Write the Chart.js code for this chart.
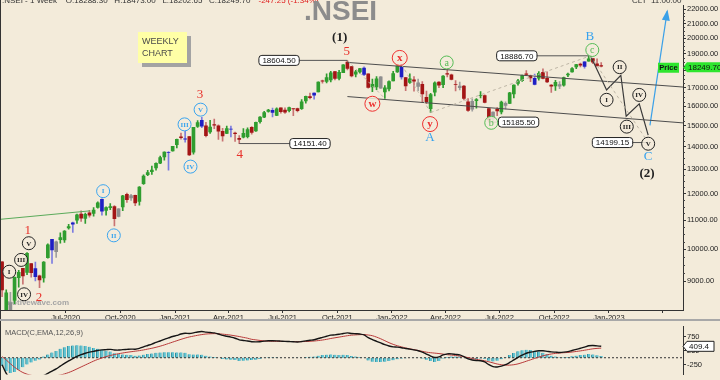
<!DOCTYPE html>
<html><head><meta charset="utf-8">
<script src="https://cdn.jsdelivr.net/npm/chart.js@4.4.1/dist/chart.umd.min.js"></script>
<style>
html,body{margin:0;padding:0;background:#f3ebda;width:720px;height:380px;overflow:hidden;}
#wrap{position:relative;width:720px;height:380px;background:#f3ebda;}
#c1{position:absolute;left:0;top:0;}
#c2{position:absolute;left:0;top:321px;}
#sep{position:absolute;left:0;top:319px;width:720px;height:2px;background:#a8a8a8;}
</style></head><body><div id="wrap"><canvas id="c1" width="720" height="320"></canvas><div id="sep"></div><canvas id="c2" width="720" height="59"></canvas></div>
<script>
// ---------------- DATA ----------------
const weeks = ['2020-03-16','2020-03-23','2020-03-30','2020-04-06','2020-04-13','2020-04-20','2020-04-27','2020-05-04','2020-05-11','2020-05-18',
'2020-05-25','2020-06-01','2020-06-08','2020-06-15','2020-06-22','2020-06-29','2020-07-06','2020-07-13','2020-07-20','2020-07-27',
'2020-08-03','2020-08-10','2020-08-17','2020-08-24','2020-08-31','2020-09-07','2020-09-14','2020-09-21','2020-09-28','2020-10-05',
'2020-10-12','2020-10-19','2020-10-26','2020-11-02','2020-11-09','2020-11-16','2020-11-23','2020-11-30','2020-12-07','2020-12-14',
'2020-12-21','2020-12-28','2021-01-04','2021-01-11','2021-01-18','2021-01-25','2021-02-01','2021-02-08','2021-02-15','2021-02-22',
'2021-03-01','2021-03-08','2021-03-15','2021-03-22','2021-03-29','2021-04-05','2021-04-12','2021-04-19','2021-04-26','2021-05-03',
'2021-05-10','2021-05-17','2021-05-24','2021-05-31','2021-06-07','2021-06-14','2021-06-21','2021-06-28','2021-07-05','2021-07-12',
'2021-07-19','2021-07-26','2021-08-02','2021-08-09','2021-08-16','2021-08-23','2021-08-30','2021-09-06','2021-09-13','2021-09-20',
'2021-09-27','2021-10-04','2021-10-11','2021-10-18','2021-10-25','2021-11-01','2021-11-08','2021-11-15','2021-11-22','2021-11-29',
'2021-12-06','2021-12-13','2021-12-20','2021-12-27','2022-01-03','2022-01-10','2022-01-17','2022-01-24','2022-01-31','2022-02-07',
'2022-02-14','2022-02-21','2022-02-28','2022-03-07','2022-03-14','2022-03-21','2022-03-28','2022-04-04','2022-04-11','2022-04-18',
'2022-04-25','2022-05-02','2022-05-09','2022-05-16','2022-05-23','2022-05-30','2022-06-06','2022-06-13','2022-06-20','2022-06-27',
'2022-07-04','2022-07-11','2022-07-18','2022-07-25','2022-08-01','2022-08-08','2022-08-15','2022-08-22','2022-08-29','2022-09-05',
'2022-09-12','2022-09-19','2022-09-26','2022-10-03','2022-10-10','2022-10-17','2022-10-24','2022-10-31','2022-11-07','2022-11-14',
'2022-11-21','2022-11-28','2022-12-05','2022-12-12','2022-12-19'];

const opens = [9588,7945,8385,8446,9103,9390,9259,9533,9382,9158,
9099,9726,10326,9919,10318,10311,10723,10851,10999,11225,
11058,11271,11248,11466,11778,11359,11465,11504,11140,11487,
11973,11835,11937,11697,12399,12780,12906,13062,13265,13547,
13741,13815,14104,14474,14360,14482,13758,14973,15271,14999,
14702,15064,14997,14736,14628,14837,14644,14402,14449,14481,
14928,14756,15211,15437,15725,15791,15525,15915,15793,15766,
15877,15874,15874,16288,16518,16592,16775,17400,17363,17443,
17932,17532,17867,18500,18230,17784,17917,18140,17796,17051,
17045,17619,16773,16937,17388,17913,18235,17575,17301,17456,
17077,17193,16481,15867,16757,17329,17182,17809,17741,17183,
17009,17094,16227,15845,16290,16578,16570,15877,15335,15839,
15710,16151,16151,16662,17244,17402,17797,17682,17188,17546,
17890,17540,17156,17102,17094,17145,17736,17911,18211,18376,
18246,18552,18719,18402,18288];

const highs = [9602,8749,8678,9131,9324,9390,9890,9533,9584,9178,
9599,10177,10328,10272,10553,10631,10847,10934,11225,11341,
11256,11361,11460,11686,11794,11493,11618,11535,11428,11939,
12025,11975,11942,12280,12770,12963,13145,13280,13579,13773,
13778,14024,14367,14653,14754,14491,14925,15257,15432,15176,
15273,15336,15051,14878,14984,14985,14697,14527,14864,14900,
14967,15189,15470,15733,15835,15901,15915,15915,15915,15962,
15881,15901,16349,16544,16701,16722,17340,17437,17793,17947,
17947,18013,18351,18604.5,18242,18012,18124,18210,17806,17490,
17640,17639,17118,17400,17944,18286,18350,17599,17794,17639,
17490,17352,16816,16694,17344,17353,17703,18115,17779,17414,
17322,17132,16404,16400,16414,16794,16610,15887,15708,15927,
16276,16228,16752,17172,17474,17724,17992,17726,17778,17925,
18096,17919,17188,17428,17348,17607,17838,18176,18362,18442,
18534,18886.7,18728,18697,18473];

const lows = [8555,7511,8056,8360,8821,8910,9196,9116,9005,8806,
8968,9706,9544,9727,10194,10224,10676,10562,10880,10956,
10882,11112,11144,11442,11185,11185,11383,10790,11116,11347,
11661,11740,11535,11557,12368,12730,12790,12962,13241,13400,
12962,13796,13954,14357,14222,13596,13662,14919,14906,14467,
14636,14857,14350,14264,14617,14460,14250,14151.4,14416,14417,
14592,14723,15128,15405,15690,15450,15505,15635,15632,15707,
15513,15705,15834,16163,16395,16376,16765,17255,17270,17326,
17452,17452,17864,18034,17613,17613,17837,17689,16983,16782,
16891,16966,16410,16833,17384,17880,17486,16836,17244,16810,
16843,16203,16134,15671,16556,17004,17006,17623,17442,16825,
16889,16340,15735,15739,15903,16444,16172,15185.5,15191,15511,
15601,15859,16142,16438,17154,17359,17711,17345,17167,17429,
17498,17292,16748,16855,16950,17098,17637,17899,18104,18210,
18133,18552,18410,18255,18202];

const closes = [8745,8660,8084,9112,9267,9154,9860,9252,9137,9039,
9580,10142,9972,10244,10383,10607,10768,10902,11194,11073,
11214,11178,11372,11647,11333,11464,11505,11050,11417,11914,
11762,11930,11642,12264,12720,12859,12969,13258,13514,13761,
13749,14018,14347,14433,14372,13635,14924,15163,14981,14529,
14938,15031,14744,14507,14867,14834,14617,14341,14631,14823,
14677,15175,15435,15670,15799,15683,15860,15722,15690,15923,
15856,15763,16238,16529,16451,16705,17324,17369,17585,17853,
17532,17895,18339,18115,17672,17917,18103,17765,17026,17197,
17511,16985,17004,17354,17812,18256,17617,17102,17516,17375,
17276,16658,16245,16630,17287,17153,17670,17784,17476,17172,
17102,16411,15782,16266,16352,16584,16202,15294,15699,15752,
16220,16049,16719,17158,17398,17698,17758,17559,17539,17833,
17531,17327,17094,17315,17186,17576,17787,18117,18350,18308,
18512,18697,18497,18270,18249.7];

const macdLine = [-250,-560,-760,-850,-880,-870,-830,-800,-770,-740,
-640,-560,-480,-400,-300,-200,-110,-30,50,110,
160,200,230,260,280,290,300,280,275,290,
300,310,305,335,390,440,490,550,600,660,
710,760,800,850,880,870,890,925,940,920,
905,890,850,800,770,740,700,640,620,600,
575,570,575,595,610,610,605,595,585,580,
575,565,580,605,625,645,690,730,770,810,
820,840,870,890,870,860,850,820,720,650,
590,530,470,420,390,380,360,330,310,280,
250,200,130,60,10,30,100,140,140,120,
100,40,-40,-80,-100,-110,-150,-250,-320,-330,
-300,-250,-170,-80,10,90,160,200,230,250,
250,230,210,200,190,200,220,260,300,340,
380,430,440,425,409.4];

const signalLine = [40,-80,-215,-340,-445,-530,-590,-630,-660,-675,
-680,-675,-665,-645,-620,-580,-530,-470,-400,-330,
-260,-190,-120,-60,-10,40,80,115,145,170,
195,215,235,255,280,310,340,375,415,460,
510,560,610,660,705,745,775,805,830,850,
860,865,860,845,830,810,785,760,730,700,
660,640,620,605,595,590,588,586,584,582,
580,578,578,582,590,600,615,635,660,690,
715,740,765,790,810,820,828,830,815,790,
740,680,610,540,480,430,390,350,320,290,
260,230,200,180,165,150,130,110,95,80,
60,35,5,-25,-55,-85,-110,-145,-185,-225,
-250,-265,-265,-250,-220,-175,-125,-75,-25,25,
70,105,135,155,170,180,190,205,225,245,
270,295,320,335,345];

const xTickDates = ['2020-07-01','2020-10-01','2021-01-01','2021-04-01','2021-07-01','2021-10-01','2022-01-01','2022-04-01','2022-07-01','2022-10-01','2023-01-01','2023-04-01'];
const xTickLabels = ['Jul-2020','Oct-2020','Jan-2021','Apr-2021','Jul-2021','Oct-2021','Jan-2022','Apr-2022','Jul-2022','Oct-2022','Jan-2023',''];
const yTickValues = [9000,10000,11000,12000,13000,14000,15000,16000,17000,18000,19000,20000,21000,22000];
const macdTicks = [750,250,-250];

// wave labels: text, date, price, style
const waveLabels = [
 ['(1)','2021-10-05',20030,'paren'],['5','2021-10-17',19145,'redNum'],['3','2021-02-12',16607,'redNum'],
 ['4','2021-04-20',13636,'redNum'],['1','2020-04-28',10633,'redNum'],['2','2020-05-17',8536,'redNum'],
 ['I','2020-09-02',12100,'blueCirc'],['II','2020-09-20',10463,'blueCirc'],['III','2021-01-17',15073,'blueCirc'],
 ['IV','2021-01-27',13118,'blueCirc'],['V','2021-02-13',15821,'blueCirc'],
 ['I','2020-03-28',9283,'blackCirc'],['III','2020-04-17',9651,'blackCirc'],['V','2020-04-30',10196,'blackCirc'],['IV','2020-04-22',8619,'blackCirc'],
 ['w','2021-11-29',16131,'redCirc'],['x','2022-01-14',18757,'redCirc'],['y','2022-03-06',15088,'redCirc'],['A','2022-03-06',14454,'blueLetter'],
 ['a','2022-04-03',18477,'greenCirc'],['b','2022-06-17',15152,'greenCirc'],['c','2022-12-04',19251,'greenCirc'],['B','2022-11-30',20094,'blueLetter'],
 ['I','2022-12-28',16341,'blackCirc'],['II','2023-01-19',18196,'blackCirc'],['III','2023-01-31',14962,'blackCirc'],
 ['IV','2023-02-21',16607,'blackCirc'],['V','2023-03-08',14144,'blackCirc'],['C','2023-03-08',13549,'blueLetter'],['(2)','2023-03-06',12824,'paren']
];
// value tags: text, price, anchor date (bar), box centre date
const valueTags = [
 ['18604.50',18604.5,'2021-10-18','2021-06-25'],
 ['14151.40',14151.4,'2021-04-19','2021-08-16'],
 ['18886.70',18886.7,'2022-11-28','2022-07-30'],
 ['15185.50',15185.5,'2022-06-13','2022-08-02'],
 ['14199.15',14199.15,'2023-03-08','2023-01-07']
];
const greenTrend = [['2020-03-12',11028],['2020-08-11',11342]];
const channelUpper = [['2021-10-18',18480],['2023-05-06',17042]];
const channelLower = [['2021-10-18',16517],['2023-05-06',15146]];
const projection = [['2022-12-01',18887],['2022-12-28',16879],['2023-01-21',17716],['2023-01-30',15482],['2023-02-21',16131],['2023-03-08',14547]];
const breakout = [['2023-03-11',15022],['2023-04-09',21856]];
const guides = [
 [['2021-10-18',18604],['2021-12-20',16410]],
 [['2022-01-17',18350],['2022-03-07',15671]],
 [['2022-03-07',15671],['2022-12-01',18887]],
 [['2022-12-01',18887],['2023-03-08',14199]]
];
const lastPrice = 18249.70;
const lastMacd = 409.4;
const headerText = '.NSEI - 1 Week    O:18288.30   H:18473.00   L:18202.65   C:18249.70';
const headerChange = '-247.25 (-1.34%)';

// ---------------- HELPERS ----------------
const day = s => Date.parse(s + 'T00:00:00Z') / 864e5;
const X_MIN = day('2020-03-12') + 0.5, X_MAX = day('2023-05-05') + 0.6;
const pts = arr => arr.map(p => ({x: day(p[0]), y: p[1]}));
const kinds = closes.map((c, i) => {
  if (i > 0) {
    if (highs[i] > highs[i-1] && lows[i] < lows[i-1]) return 'out';
    if (highs[i] < highs[i-1] && lows[i] > lows[i-1]) return 'in';
  }
  return c >= opens[i] ? 'up' : 'down';
});
const BODY = {up:'#2f9d2f', down:'#a31515', out:'#1f1fc4', in:'#8e8e8e'};
const WICK = {up:'#2f9d2f', down:'#c87272', out:'#7c7ce0', in:'#a0a0a0'};
const FONT = '"Liberation Sans", Arial, sans-serif';
const SERIF = '"Liberation Serif", "DejaVu Serif", serif';

function lineDs(arr, color, width, dash) {
  return {type:'line', data: pts(arr), borderColor: color, borderWidth: width, borderDash: dash || [], pointRadius: 0, fill: false, tension: 0, order: 0};
}

const annotPlugin = {
  id: 'annot',
  beforeDatasetsDraw(chart) {
    const ctx = chart.ctx;
    ctx.save();
    ctx.font = 'bold 8px ' + FONT; ctx.fillStyle = '#a5a5a5'; ctx.textBaseline = 'middle'; ctx.textAlign = 'left';
    ctx.fillText('motivewave.com', 5, 303);
    ctx.restore();
  },
  afterDatasetsDraw(chart) {
    const ctx = chart.ctx, xs = chart.scales.x, ys = chart.scales.y;
    const px = d => xs.getPixelForValue(day(d)), py = v => ys.getPixelForValue(v);
    ctx.save();
    // header (clipped at top)
    ctx.font = '8px ' + FONT; ctx.textBaseline = 'alphabetic'; ctx.textAlign = 'left'; ctx.fillStyle = '#333';
    ctx.fillText(headerText, 2, 3);
    const hw = ctx.measureText(headerText).width;
    ctx.fillStyle = '#e02020'; ctx.fillText(headerChange, 2 + hw + 8, 3);
    ctx.fillStyle = '#333'; ctx.fillText('CLT  11:00:00', 632, 3);
    // title
    ctx.font = 'bold 28px ' + FONT; ctx.fillStyle = '#8c8c8c'; ctx.textAlign = 'left'; ctx.textBaseline = 'alphabetic';
    ctx.fillText('.NSEI', 304, 20);
    // weekly box
    ctx.fillStyle = '#a3a3a3'; ctx.fillRect(142, 36, 49, 31);
    ctx.fillStyle = '#ffffa6'; ctx.fillRect(138, 32, 49, 31);
    ctx.fillStyle = '#4a4a4a'; ctx.font = '9px ' + FONT; ctx.textBaseline = 'middle';
    ctx.fillText('WEEKLY', 142, 42); ctx.fillText('CHART', 142, 53.5);
    // arrowhead for breakout
    const a0 = breakout[0], a1 = breakout[1];
    const x0 = px(a0[0]), y0 = py(a0[1]), x1 = px(a1[0]), y1 = py(a1[1]);
    const ang = Math.atan2(y1 - y0, x1 - x0);
    ctx.fillStyle = '#3aa0e8'; ctx.beginPath();
    ctx.moveTo(x1 + 2 * Math.cos(ang), y1 + 2 * Math.sin(ang));
    ctx.lineTo(x1 - 9 * Math.cos(ang) + 4 * Math.sin(ang), y1 - 9 * Math.sin(ang) - 4 * Math.cos(ang));
    ctx.lineTo(x1 - 9 * Math.cos(ang) - 4 * Math.sin(ang), y1 - 9 * Math.sin(ang) + 4 * Math.cos(ang));
    ctx.closePath(); ctx.fill();
    // value tags
    valueTags.forEach(t => {
      const y = py(t[1]), xa = px(t[2]), xc = px(t[3]);
      ctx.font = '8px ' + FONT;
      const w = ctx.measureText(t[0]).width + 7, h = 10;
      ctx.strokeStyle = '#555'; ctx.lineWidth = 1;
      ctx.beginPath();
      if (xa > xc) { ctx.moveTo(xc + w / 2, y); ctx.lineTo(xa, y); } else { ctx.moveTo(xa, y); ctx.lineTo(xc - w / 2, y); }
      ctx.stroke();
      ctx.fillStyle = '#ffffff'; ctx.strokeStyle = '#222';
      ctx.beginPath(); ctx.roundRect(xc - w / 2, y - h / 2, w, h, 3); ctx.fill(); ctx.stroke();
      ctx.fillStyle = '#111'; ctx.textAlign = 'center'; ctx.textBaseline = 'middle';
      ctx.fillText(t[0], xc, y + 0.5);
    });
    // wave labels
    waveLabels.forEach(l => {
      const x = px(l[1]), y = py(l[2]), s = l[3];
      ctx.textAlign = 'center'; ctx.textBaseline = 'middle';
      if (s === 'paren') { ctx.font = 'bold 13px ' + SERIF; ctx.fillStyle = '#222'; ctx.fillText(l[0], x, y); }
      else if (s === 'redNum') { ctx.font = '13px ' + SERIF; ctx.fillStyle = '#e8302a'; ctx.fillText(l[0], x, y); }
      else if (s === 'blueLetter') { ctx.font = '13px ' + SERIF; ctx.fillStyle = '#36a2ee'; ctx.fillText(l[0], x, y); }
      else {
        const col = {blueCirc:'#3aa4ee', blackCirc:'#222', redCirc:'#ee3030', greenCirc:'#55bb55'}[s];
        const r = s === 'redCirc' ? 7.5 : 6.5;
        ctx.beginPath(); ctx.arc(x, y, r, 0, Math.PI * 2);
        ctx.fillStyle = 'rgba(243,235,218,0.85)'; ctx.fill();
        ctx.lineWidth = 1; ctx.strokeStyle = col; ctx.stroke();
        ctx.fillStyle = col;
        ctx.font = (s === 'redCirc' ? 'bold 11px ' : (s === 'greenCirc' ? '10px ' : 'bold 7px ')) + SERIF;
        ctx.fillText(l[0], x, y + 0.5);
      }
    });
    // price tag
    const yp = py(lastPrice) + 1;
    ctx.fillStyle = '#2ee52e'; ctx.strokeStyle = '#119911'; ctx.lineWidth = 1;
    ctx.fillRect(658, yp - 4.5, 21, 10);
    ctx.beginPath(); ctx.moveTo(683, yp); ctx.lineTo(687, yp - 5); ctx.lineTo(720, yp - 5); ctx.lineTo(720, yp + 5); ctx.lineTo(687, yp + 5); ctx.closePath(); ctx.fill();
    ctx.fillStyle = '#111'; ctx.font = 'bold 7.5px ' + FONT; ctx.textAlign = 'center'; ctx.textBaseline = 'middle';
    ctx.fillText('Price', 668.5, yp + 0.5);
    ctx.font = '8px ' + FONT; ctx.textAlign = 'left';
    ctx.fillText(lastPrice.toFixed(2), 688, yp + 0.5);
    // minor ticks on y axis
    ctx.strokeStyle = '#444'; ctx.lineWidth = 1;
    for (let v = 9000; v <= 22000; v += 250) {
      if (v % 1000 === 0) continue;
      const y = Math.round(py(v)) + 0.5; ctx.beginPath(); ctx.moveTo(683, y); ctx.lineTo(685, y); ctx.stroke();
    }
    // left border
    ctx.strokeStyle = '#333'; ctx.beginPath(); ctx.moveTo(0.5, 0); ctx.lineTo(0.5, 320); ctx.stroke();
    ctx.restore();
  }
};

const wickData = weeks.map((w, i) => ({x: day(w), y: [lows[i], highs[i]]}));
const bodyData = weeks.map((w, i) => ({x: day(w), y: [Math.min(opens[i], closes[i]), Math.max(opens[i], closes[i])]}));

new Chart(document.getElementById('c1'), {
  type: 'bar',
  data: {datasets: [
    lineDs(greenTrend, '#5aaa5a', 1),
    ...guides.map(g => lineDs(g, '#bdb5a5', 1, [3, 3])),
    lineDs(channelUpper, '#4d4d4d', 1),
    lineDs(channelLower, '#4d4d4d', 1),
    lineDs(projection, '#3a3a3a', 1.2),
    lineDs(breakout, '#3aa0e8', 1.2),
    {type:'bar', data: wickData, backgroundColor: kinds.map(k => WICK[k]), barThickness: 1, grouped: false, order: 2},
    {type:'bar', data: bodyData, backgroundColor: kinds.map(k => BODY[k]), barThickness: 3, grouped: false, order: 1}
  ]},
  options: {
    responsive: false, animation: false, devicePixelRatio: 1,
    layout: {padding: 0},
    plugins: {legend: {display: false}, tooltip: {enabled: false}},
    scales: {
      x: {type: 'linear', min: X_MIN, max: X_MAX, offset: false,
        afterBuildTicks: ax => { ax.ticks = xTickDates.map(d => ({value: day(d)})); },
        afterFit: s => { s.height = 10; },
        ticks: {callback: (v, i) => xTickLabels[i], font: {size: 7.5, family: FONT}, color: '#222', maxRotation: 0, autoSkip: false, padding: 0},
        grid: {drawOnChartArea: false, drawTicks: true, tickLength: 3, color: '#333', offset: false},
        border: {color: '#333', width: 1}},
      y: {type: 'logarithmic', position: 'right', min: 8185, max: 22286,
        afterBuildTicks: ax => { ax.ticks = yTickValues.map(v => ({value: v})); },
        afterFit: s => { s.width = 37; },
        ticks: {callback: v => Number(v).toFixed(2), font: {size: 7.5, family: FONT}, color: '#222', padding: 1, autoSkip: false},
        grid: {drawOnChartArea: false, drawTicks: true, tickLength: 3, color: '#333'},
        border: {color: '#333', width: 1}}
    }
  },
  plugins: [annotPlugin]
});

// ---------------- MACD ----------------
const macdPlugin = {
  id: 'macdAnnot',
  afterDatasetsDraw(chart) {
    const ctx = chart.ctx, ys = chart.scales.y;
    ctx.save();
    ctx.font = '7.5px ' + FONT; ctx.fillStyle = '#555'; ctx.textAlign = 'left'; ctx.textBaseline = 'middle';
    ctx.fillText('MACD(C,EMA,12,26,9)', 5, 12);
    const y = ys.getPixelForValue(lastMacd);
    ctx.fillStyle = '#fff'; ctx.strokeStyle = '#222'; ctx.lineWidth = 1;
    ctx.beginPath(); ctx.moveTo(683, y); ctx.lineTo(687, y - 5); ctx.lineTo(714, y - 5); ctx.lineTo(714, y + 5); ctx.lineTo(687, y + 5); ctx.closePath(); ctx.fill(); ctx.stroke();
    ctx.fillStyle = '#111'; ctx.font = '8px ' + FONT; ctx.fillText(lastMacd.toFixed(1), 689, y + 0.5);
    ctx.strokeStyle = '#333'; ctx.beginPath(); ctx.moveTo(0.5, 0); ctx.lineTo(0.5, 59); ctx.stroke();
    ctx.restore();
  }
};
const histData = weeks.map((w, i) => ({x: day(w), y: macdLine[i] - signalLine[i]}));
new Chart(document.getElementById('c2'), {
  type: 'bar',
  data: {datasets: [
    {type:'line', data: weeks.map((w, i) => ({x: day(w), y: macdLine[i]})), borderColor: '#151515', borderWidth: 1.4, pointRadius: 0, tension: 0.3, order: 0},
    {type:'line', data: weeks.map((w, i) => ({x: day(w), y: signalLine[i]})), borderColor: '#b83a3a', borderWidth: 1, pointRadius: 0, tension: 0.3, order: 1},
    {type:'line', data: [{x: X_MIN, y: 0}, {x: X_MAX, y: 0}], borderColor: '#333', borderWidth: 1, borderDash: [2, 2], pointRadius: 0, order: 2},
    {type:'bar', data: histData, backgroundColor: '#64c4d2', borderColor: '#2f8e9e', borderWidth: {left: 1, right: 0, top: 0, bottom: 0}, barThickness: 3, grouped: false, order: 3}
  ]},
  options: {
    responsive: false, animation: false, devicePixelRatio: 1,
    layout: {padding: 0},
    plugins: {legend: {display: false}, tooltip: {enabled: false}},
    scales: {
      x: {type: 'linear', min: X_MIN, max: X_MAX, display: false, offset: false},
      y: {type: 'linear', position: 'right', min: -601, max: 1120,
        afterBuildTicks: ax => { ax.ticks = macdTicks.map(v => ({value: v})); },
        afterFit: s => { s.width = 37; },
        ticks: {callback: v => String(v), font: {size: 7.5, family: FONT}, color: '#222', padding: 1, autoSkip: false},
        grid: {drawOnChartArea: false, drawTicks: true, tickLength: 3, color: '#333'},
        border: {color: '#333', width: 1}}
    }
  },
  plugins: [macdPlugin]
});
</script></body></html>
